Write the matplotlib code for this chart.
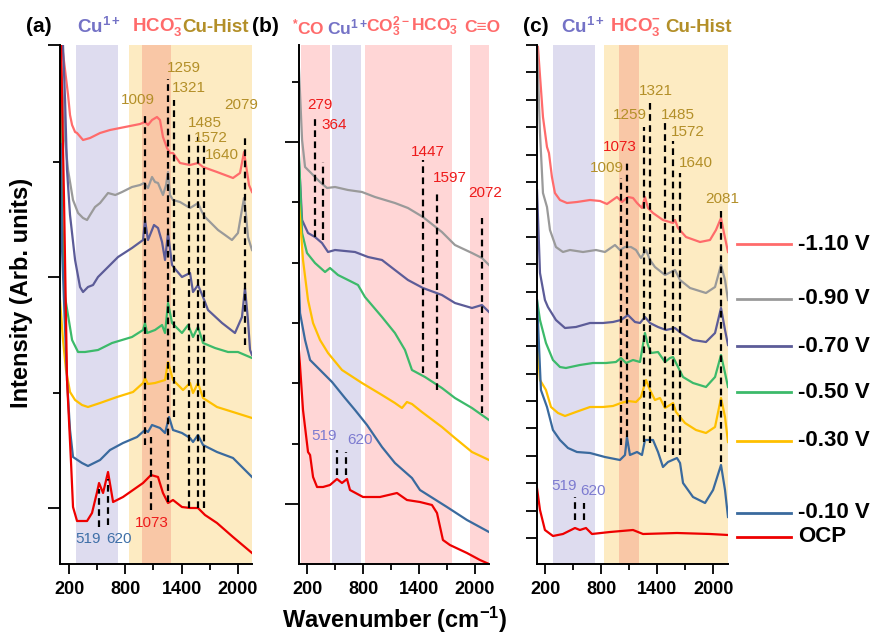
import numpy as np
import matplotlib.pyplot as plt
from matplotlib.lines import Line2D

plt.rcParams['font.family'] = ['Liberation Sans', 'DejaVu Sans']
plt.rcParams['mathtext.fontset'] = 'custom'
plt.rcParams['mathtext.rm'] = 'Liberation Sans'
plt.rcParams['mathtext.bf'] = 'Liberation Sans:bold'
plt.rcParams['mathtext.it'] = 'Liberation Sans:italic'

# ---------------------------------------------------------------------------
# Spectra: (wavenumber, intensity in arb. units)
# ---------------------------------------------------------------------------

# panel (a)
a_m110 = [(110, 540), (124, 519), (156, 494), (188, 469), (209, 449), (231, 439), (263, 432),
          (284, 431), (348, 424), (423, 426), (530, 431), (636, 434), (743, 436), (850, 438),
          (957, 440), (1010, 442), (1042, 439), (1085, 444), (1138, 447), (1170, 444),
          (1202, 427), (1245, 416), (1277, 411), (1309, 411), (1384, 401), (1491, 399),
          (1576, 401), (1630, 397), (1779, 392), (1950, 386), (2025, 391), (2068, 412),
          (2089, 399), (2121, 379), (2153, 372)]
a_m090 = [(102, 519), (134, 464), (156, 424), (188, 394), (241, 364), (295, 351), (348, 346),
          (391, 344), (423, 349), (476, 357), (530, 361), (615, 371), (693, 369), (765, 372),
          (871, 377), (957, 379), (1000, 381), (1042, 376), (1085, 387), (1117, 382),
          (1149, 381), (1202, 369), (1235, 379), (1256, 392), (1277, 369), (1309, 364),
          (1384, 362), (1491, 356), (1544, 359), (1576, 361), (1619, 352), (1651, 347),
          (1726, 340), (1790, 334), (1865, 329), (1939, 324), (2003, 331), (2036, 349),
          (2068, 366), (2089, 349), (2110, 327), (2153, 314)]
a_m070 = [(120, 540), (134, 519), (156, 464), (177, 394), (209, 349), (263, 304), (316, 277),
          (348, 272), (401, 277), (455, 279), (508, 287), (615, 297), (722, 307), (871, 316),
          (989, 324), (1010, 344), (1042, 324), (1106, 339), (1149, 336), (1192, 322),
          (1224, 304), (1256, 331), (1299, 299), (1341, 294), (1405, 287), (1491, 291),
          (1523, 272), (1576, 279), (1630, 267), (1683, 254), (1833, 241), (1971, 231),
          (2046, 247), (2078, 276), (2110, 244), (2132, 214), (2153, 209)]
a_m050 = [(104, 530), (113, 444), (124, 354), (156, 267), (231, 224), (295, 212), (369, 212),
          (508, 214), (658, 221), (871, 227), (989, 234), (1010, 241), (1032, 231), (1117, 234),
          (1192, 239), (1224, 231), (1256, 261), (1299, 241), (1405, 231), (1470, 239),
          (1523, 227), (1576, 237), (1630, 221), (1758, 216), (1897, 212), (2003, 212),
          (2078, 209), (2153, 206)]
a_m030 = [(102, 264), (134, 224), (166, 194), (209, 172), (263, 164), (337, 159), (401, 157),
          (530, 161), (711, 167), (882, 172), (989, 181), (1010, 186), (1042, 180), (1117, 181),
          (1224, 184), (1256, 202), (1309, 184), (1416, 174), (1491, 181), (1523, 171),
          (1576, 181), (1630, 166), (1779, 157), (1950, 152), (2153, 146)]
a_m010 = [(110, 420), (124, 314), (177, 184), (209, 134), (241, 107), (337, 101), (401, 98),
          (530, 104), (636, 114), (775, 121), (925, 127), (1010, 134), (1042, 132), (1085, 139),
          (1170, 136), (1224, 131), (1267, 147), (1309, 134), (1405, 131), (1491, 126),
          (1523, 122), (1576, 129), (1630, 119), (1779, 112), (1950, 106), (2153, 87)]
a_ocp = [(113, 519), (145, 364), (177, 184), (220, 101), (241, 57), (284, 43), (391, 43),
         (444, 51), (498, 72), (519, 81), (562, 71), (615, 92), (669, 62), (775, 67), (882, 74),
         (989, 81), (1074, 89), (1149, 87), (1202, 71), (1256, 61), (1309, 64), (1405, 57),
         (1491, 56), (1576, 56), (1651, 49), (1779, 41), (1950, 27), (2153, 11)]

# panel (b)
b_m090 = [(100, 519), (110, 494), (143, 424), (175, 397), (229, 392), (282, 387), (336, 382),
          (411, 376), (497, 377), (637, 374), (787, 372), (927, 367), (1141, 361), (1281, 356),
          (1442, 347), (1646, 332), (1786, 319), (1969, 311), (2076, 306), (2152, 299)]
b_m070 = [(100, 444), (110, 404), (143, 344), (207, 331), (282, 327), (357, 321), (422, 312),
          (497, 314), (712, 312), (852, 307), (1002, 304), (1141, 294), (1281, 284), (1442, 276),
          (1646, 269), (1786, 261), (1969, 256), (2076, 259), (2152, 252)]
b_m050 = [(100, 431), (143, 331), (196, 311), (282, 301), (390, 292), (443, 296), (529, 289),
          (637, 284), (744, 279), (819, 267), (1002, 247), (1141, 231), (1249, 214), (1324, 194),
          (1464, 187), (1646, 176), (1786, 166), (1969, 156), (2152, 144)]
b_m030 = [(100, 374), (153, 304), (207, 264), (261, 241), (336, 224), (422, 211), (572, 194),
          (787, 181), (1002, 169), (1141, 161), (1217, 156), (1270, 162), (1324, 160),
          (1431, 152), (1646, 137), (1786, 126), (1969, 112), (2152, 104)]
b_m010 = [(100, 314), (121, 251), (175, 224), (229, 204), (315, 196), (465, 182), (604, 166),
          (712, 154), (841, 139), (1002, 117), (1141, 101), (1324, 86), (1410, 74), (1700, 57),
          (1915, 44), (2152, 32)]
b_ocp = [(100, 227), (153, 154), (207, 112), (229, 109), (261, 87), (304, 77), (368, 77),
         (443, 79), (518, 85), (572, 81), (626, 85), (658, 74), (798, 67), (980, 67), (1163, 71),
         (1270, 64), (1410, 62), (1539, 59), (1593, 51), (1657, 24), (1732, 19), (1915, 11),
         (2055, 4), (2152, 0)]

# panel (c)
c_m110 = [(122, 517), (176, 447), (219, 417), (240, 411), (272, 387), (304, 371), (358, 364),
          (433, 361), (540, 362), (680, 364), (787, 363), (862, 360), (969, 367), (1023, 362),
          (1087, 367), (1141, 366), (1184, 361), (1237, 356), (1269, 367), (1301, 356),
          (1355, 351), (1462, 344), (1570, 341), (1591, 344), (1623, 336), (1709, 327),
          (1859, 322), (1966, 324), (2030, 334), (2084, 346), (2116, 331), (2159, 312)]
c_m090 = [(112, 519), (144, 431), (176, 371), (219, 357), (251, 334), (315, 317), (390, 312),
          (465, 314), (605, 312), (744, 314), (840, 312), (948, 319), (1001, 314), (1055, 317),
          (1119, 317), (1173, 314), (1226, 306), (1280, 314), (1323, 304), (1376, 297),
          (1484, 289), (1591, 294), (1645, 284), (1752, 276), (1923, 271), (2020, 277),
          (2084, 299), (2127, 284), (2159, 264)]
c_m070 = [(112, 374), (144, 291), (197, 264), (229, 257), (315, 244), (412, 236), (529, 237),
          (680, 241), (819, 241), (926, 242), (1012, 244), (1087, 249), (1162, 242), (1216, 241),
          (1269, 247), (1323, 241), (1409, 237), (1494, 234), (1591, 236), (1655, 231),
          (1784, 224), (1923, 222), (2020, 231), (2084, 256), (2127, 234), (2159, 219)]
c_m050 = [(112, 264), (144, 244), (208, 221), (283, 204), (358, 197), (422, 196), (572, 199),
          (712, 201), (851, 201), (958, 202), (1012, 206), (1066, 201), (1141, 204), (1216, 202),
          (1269, 231), (1301, 219), (1334, 211), (1409, 212), (1484, 202), (1537, 206),
          (1570, 207), (1602, 201), (1677, 187), (1784, 181), (1923, 177), (2020, 187),
          (2084, 209), (2127, 191), (2159, 177)]
c_m030 = [(112, 224), (144, 184), (208, 174), (262, 157), (337, 151), (412, 148), (529, 152),
          (680, 157), (819, 157), (926, 158), (1012, 161), (1087, 163), (1173, 162), (1226, 167),
          (1280, 184), (1323, 174), (1376, 164), (1430, 166), (1484, 156), (1537, 159),
          (1570, 161), (1602, 152), (1698, 141), (1816, 134), (1923, 131), (2020, 137),
          (2084, 166), (2127, 147), (2159, 122)]
c_m010 = [(112, 264), (154, 174), (219, 157), (283, 134), (358, 124), (444, 116), (540, 112),
          (680, 111), (840, 107), (1001, 104), (1055, 109), (1076, 127), (1108, 109), (1184, 112),
          (1237, 109), (1269, 124), (1355, 124), (1409, 112), (1462, 97), (1516, 102),
          (1612, 106), (1645, 101), (1677, 81), (1784, 67), (1913, 61), (1999, 74), (2084, 99),
          (2127, 74), (2159, 47)]
c_ocp = [(112, 76), (144, 54), (197, 34), (283, 28), (390, 30), (519, 36), (572, 34), (637, 36),
         (701, 30), (894, 32), (1141, 34), (1248, 30), (1612, 31), (1966, 30), (2159, 29)]

# dashed peak markers: (wavenumber, bottom, top)
peaks_a = [(1009, 119, 452), (1073, 54, 127), (1259, 62, 485), (1321, 147, 464),
           (1485, 56, 432), (1572, 56, 427), (1640, 56, 420), (2079, 219, 429),
           (519, 37, 75), (620, 39, 85)]
peaks_b = [(279, 327, 447), (364, 324, 402), (1447, 191, 404), (1597, 174, 372),
           (2072, 151, 346), (519, 89, 114), (620, 89, 112)]
peaks_c = [(1009, 119, 386), (1073, 127, 404), (1259, 122, 437), (1321, 121, 465),
           (1485, 112, 442), (1572, 109, 423), (1640, 109, 391), (2081, 102, 353),
           (519, 44, 67), (620, 44, 61)]

GOLD, RED, PURPLE_T, BLUE_T = '#b38f28', '#ee1a1a', '#7d7bd0', '#3f70a8'

# peak labels: (text, wavenumber, intensity, colour)
labels_a = [('1009', 935, 464, GOLD), ('1259', 1427, 496, GOLD), ('1321', 1480, 476, GOLD),
            ('1485', 1651, 441, GOLD), ('1572', 1715, 426, GOLD), ('1640', 1833, 409, GOLD),
            ('2079', 2036, 459, GOLD), ('1073', 1085, 41, RED), ('519', 401, 25, BLUE_T),
            ('620', 733, 25, BLUE_T)]
labels_b = [('279', 336, 459, RED), ('364', 486, 439, RED), ('1447', 1496, 412, RED),
            ('1597', 1732, 386, RED), ('2072', 2108, 371, RED), ('519', 379, 128, PURPLE_T),
            ('620', 765, 124, PURPLE_T)]
labels_c = [('1321', 1387, 473, GOLD), ('1259', 1108, 449, GOLD), ('1485', 1623, 449, GOLD),
            ('1572', 1730, 432, GOLD), ('1073', 1001, 417, RED), ('1009', 862, 396, GOLD),
            ('1640', 1816, 401, GOLD), ('2081', 2095, 365, GOLD), ('519', 401, 78, PURPLE_T),
            ('620', 712, 73, PURPLE_T)]

series_names = ['-1.10 V', '-0.90 V', '-0.70 V', '-0.50 V', '-0.30 V', '-0.10 V', 'OCP']
series_colors = ['#ff6b6b', '#9a9a9a', '#5c5c98', '#3cba6a', '#ffc000', '#3a6a9e', '#ee0000']
legend_rows = [244, 299, 346, 392, 441, 513, 537]   # pixel rows of the legend entries

# shaded bands
LAV, YEL, ORA, PINK = '#dedcef', '#fdebc2', '#f9c7a6', '#ffd6d6'
bands_a = [(273, 722, LAV), (839, 2200, YEL), (978, 1288, ORA)]
bands_b = [(129, 443, PINK), (462, 773, LAV), (822, 1750, PINK), (1947, 2162, PINK)]
bands_c = [(286, 733, LAV), (830, 2200, YEL), (991, 1202, ORA)]

# ---------------------------------------------------------------------------
W, H = 871, 634
fig = plt.figure(figsize=(W / 100, H / 100), dpi=100)


def px_axes(x0, x1, y0, y1):
    return fig.add_axes([x0 / W, 1 - y1 / H, (x1 - x0) / W, (y1 - y0) / H])


def draw_panel(ax, curves, colors, bands, peaks, labels, xlim):
    for lo, hi, col in bands:
        ax.axvspan(lo, hi, color=col, lw=0, zorder=0)
    for pk, lo, hi in peaks:
        ax.vlines(pk, lo, hi, colors='k', linestyles=(0, (3, 2)), lw=1.6, zorder=3)
    for data, col in zip(curves, colors):
        arr = np.array(data, dtype=float)
        ax.plot(arr[:, 0], arr[:, 1], color=col, lw=1.6, zorder=2)
    for txt, x, y, col in labels:
        ax.text(x, y, txt, color=col, fontsize=11, ha='center', va='center',
                clip_on=False, zorder=4)
    ax.set_xlim(*xlim)
    ax.set_ylim(0, 519)
    ax.spines[['top', 'right']].set_visible(False)
    for s in ('left', 'bottom'):
        ax.spines[s].set_linewidth(1.4)
    ax.set_xticks([200, 800, 1400, 2000])
    ax.set_xticklabels(['200', '800', '1400', '2000'], fontweight='bold', fontsize=13)
    ax.set_xticks([500, 1100, 1700], minor=True)
    ax.tick_params(axis='x', which='major', length=7, width=1.3, pad=5)
    ax.tick_params(axis='x', which='minor', length=4, width=1.3)
    ax.tick_params(axis='y', labelleft=False, width=1.3)


ax_a = px_axes(60, 252, 45, 564)
ax_b = px_axes(299, 489, 45, 564)
ax_c = px_axes(537, 728, 45, 564)

draw_panel(ax_a, [a_m110, a_m090, a_m070, a_m050, a_m030, a_m010, a_ocp], series_colors,
           bands_a, peaks_a, labels_a, (102, 2153))
draw_panel(ax_b, [b_m090, b_m070, b_m050, b_m030, b_m010, b_ocp], series_colors[1:],
           bands_b, peaks_b, labels_b, (110, 2152))
draw_panel(ax_c, [c_m110, c_m090, c_m070, c_m050, c_m030, c_m010, c_ocp], series_colors,
           bands_c, peaks_c, labels_c, (112, 2159))

# y ticks
ax_a.set_yticks([56, 287, 519])
ax_a.set_yticks([171, 402], minor=True)
ax_a.tick_params(axis='y', which='major', length=9)
ax_a.tick_params(axis='y', which='minor', length=5, width=1.3)
ax_b.set_yticks([60, 422])
ax_b.set_yticks([120, 181, 241, 301, 362, 482], minor=True)
ax_b.tick_params(axis='y', which='major', length=10)
ax_b.tick_params(axis='y', which='minor', length=5, width=1.3)
ax_c.set_yticks(np.linspace(26, 519, 19))
ax_c.tick_params(axis='y', which='major', length=8)

# headers above the panels
PURPLE_H, SALMON_H = '#7472c6', '#ff6b6b'
ytop = 1 - 27 / H
header_items = [
    ('(a)', 26, 'black', 15), (r'Cu$^{\mathbf{1+}}$', 77, PURPLE_H, 13.5),
    (r'HCO$_{\mathbf{3}}^{\mathbf{-}}$', 132, SALMON_H, 13.5), ('Cu-Hist', 182, GOLD, 13.5),
    ('(b)', 252, 'black', 15), (r'$^{\mathbf{*}}$CO', 292, SALMON_H, 12.5),
    (r'Cu$^{\mathbf{1+}}$', 327, PURPLE_H, 12.5), (r'CO$_{\mathbf{3}}^{\mathbf{2-}}$', 366, SALMON_H, 12.5),
    (r'HCO$_{\mathbf{3}}^{\mathbf{-}}$', 411, SALMON_H, 12.5), ('C\u2261O', 464, SALMON_H, 12.5),
    ('(c)', 523, 'black', 15), (r'Cu$^{\mathbf{1+}}$', 561, PURPLE_H, 13.5),
    (r'HCO$_{\mathbf{3}}^{\mathbf{-}}$', 610, SALMON_H, 13.5), ('Cu-Hist', 665, GOLD, 13.5),
]
for txt, x, col, fs in header_items:
    fig.text(x / W, ytop, txt, color=col, fontsize=fs, fontweight='bold', ha='left', va='center')

# legend beside panel (c)
for name, col, row in zip(series_names, series_colors, legend_rows):
    yy = 1 - row / H
    fig.add_artist(Line2D([737 / W, 791 / W], [yy, yy], color=col, lw=2))
    fig.text(798 / W, yy, name, fontsize=16, fontweight='bold', ha='left', va='center')

fig.text(395 / W, 1 - 620 / H, r'Wavenumber (cm$^{\mathbf{-1}}$)', fontsize=17,
         fontweight='bold', ha='center', va='center')
fig.text(22 / W, 1 - 293 / H, 'Intensity (Arb. units)', fontsize=17, fontweight='bold',
         rotation=90, ha='center', va='center')

fig.savefig('out.png', dpi=100)
